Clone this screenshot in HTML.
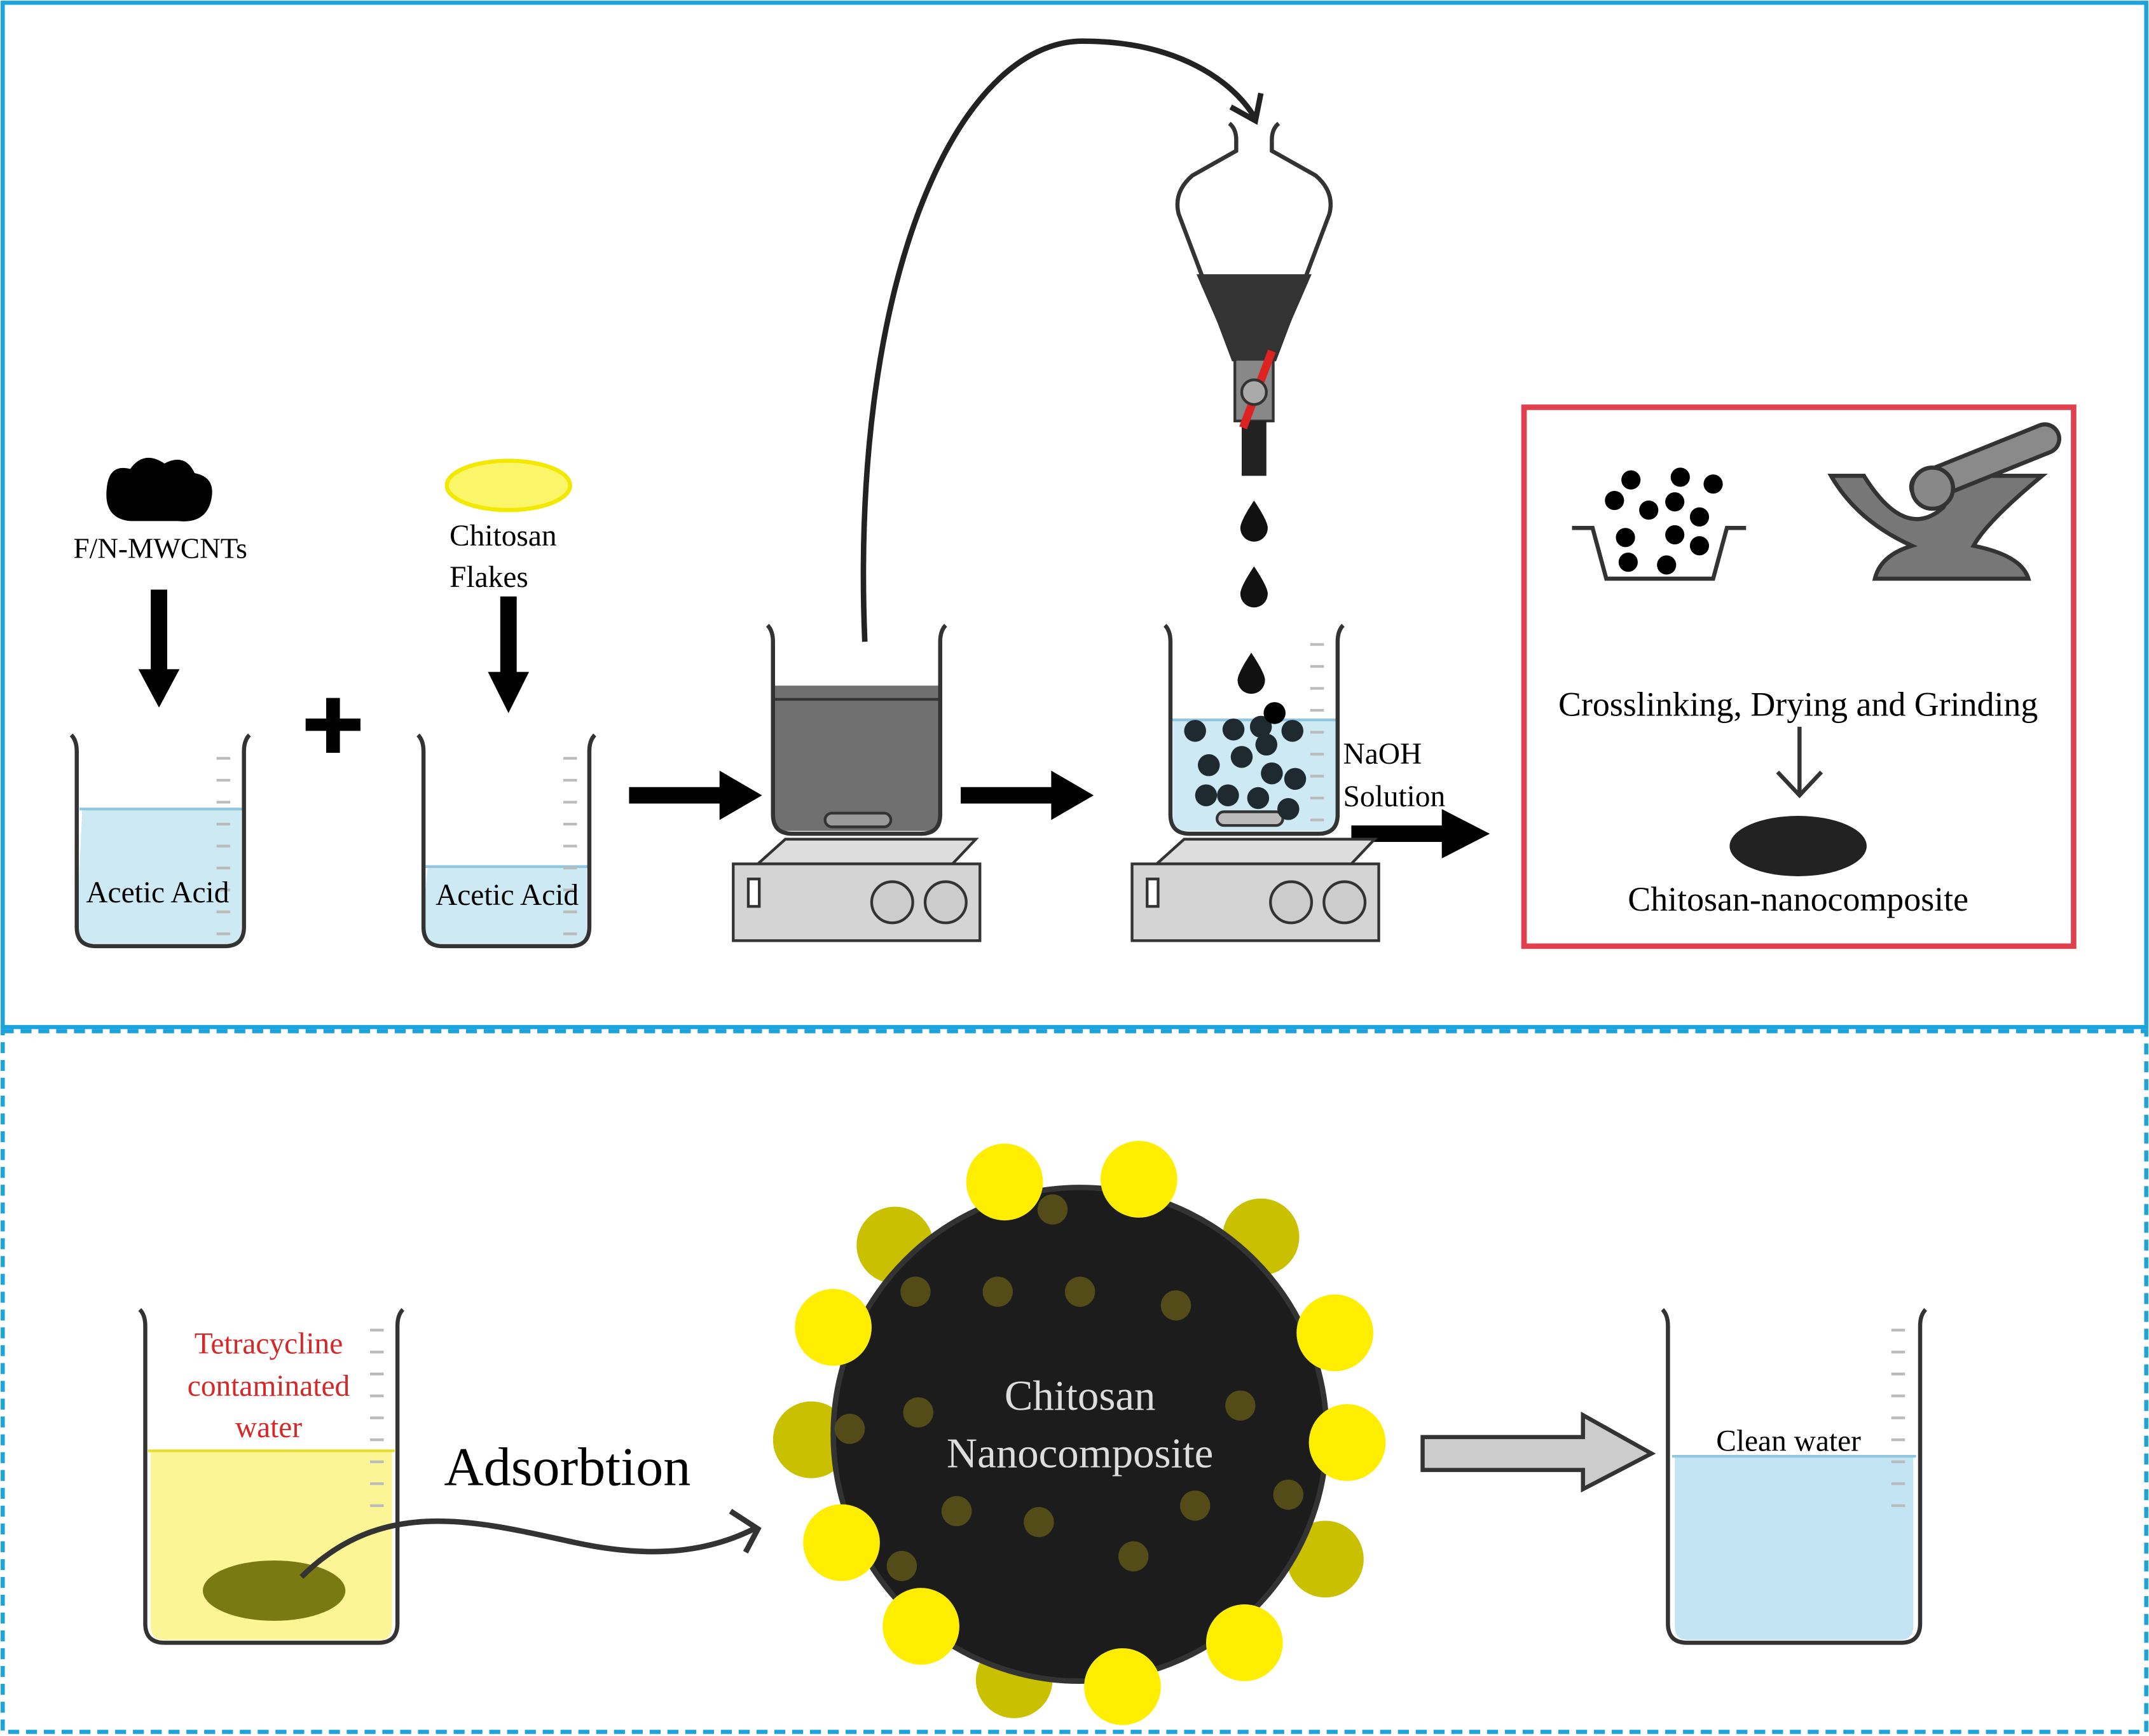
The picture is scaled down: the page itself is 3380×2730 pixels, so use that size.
<!DOCTYPE html>
<html><head><style>html,body{margin:0;padding:0;background:#fff}svg{display:block}svg text{font-family:"Liberation Serif","DejaVu Serif",serif}</style></head><body>
<svg width="3380" height="2730" viewBox="0 0 1568 1266" preserveAspectRatio="none" xmlns="http://www.w3.org/2000/svg">
<defs>
<g id="ticks" stroke="#bbb" stroke-width="2">
<line x1="0" y1="0" x2="10" y2="0"/><line x1="0" y1="16" x2="10" y2="16"/><line x1="0" y1="32" x2="10" y2="32"/><line x1="0" y1="48" x2="10" y2="48"/><line x1="0" y1="64" x2="10" y2="64"/><line x1="0" y1="80" x2="10" y2="80"/><line x1="0" y1="96" x2="10" y2="96"/><line x1="0" y1="112" x2="10" y2="112"/><line x1="0" y1="128" x2="10" y2="128"/>
</g>
<g id="plate">
<polygon points="553,630 695,630 712,612 573,612" fill="#ddd" stroke="#333" stroke-width="2"/>
<rect x="535" y="630" width="180" height="56" fill="#d4d4d4" stroke="#333" stroke-width="2"/>
<rect x="546" y="641" width="8" height="20" fill="#fff" stroke="#333" stroke-width="2"/>
<circle cx="651" cy="658" r="15" fill="#ccc" stroke="#333" stroke-width="2"/>
<circle cx="690" cy="658" r="15" fill="#ccc" stroke="#333" stroke-width="2"/>
</g>
</defs>
<rect x="2" y="2" width="1564" height="747" fill="none" stroke="#1aa3dd" stroke-width="3"/>
<rect x="2" y="752" width="1564" height="511" fill="none" stroke="#1aa3dd" stroke-width="3" stroke-dasharray="8,5"/>

<path d="M60,590 L176,590 L176,678 Q176,688 166,688 L66,688 Q56,688 56,678 Z" fill="#cde9f4"/>
<line x1="58" y1="590" x2="177" y2="590" stroke="#8fc7e0" stroke-width="2"/>
<path d="M52,536 Q56,540 56,548 L56,676 Q56,690 70,690 L164,690 Q178,690 178,676 L178,548 Q178,540 182,536" fill="none" stroke="#333" stroke-width="3"/>
<use href="#ticks" x="158" y="553"/>
<text x="115" y="658" font-size="22" text-anchor="middle">Acetic Acid</text>
<path d="M78,355 Q80,338 95,342 Q105,328 120,338 Q135,330 142,345 Q158,348 154,365 Q150,382 130,380 L95,380 Q75,378 78,355Z" fill="#000"/>
<text x="117" y="407" font-size="21" text-anchor="middle">F/N-MWCNTs</text>
<rect x="110" y="430" width="12" height="60" fill="#000"/><polygon points="101,488 131,488 116,516" fill="#000"/>
<rect x="223" y="524" width="40" height="9" fill="#000"/><rect x="238" y="509" width="10" height="40" fill="#000"/>

<path d="M312,632 L428,632 L428,678 Q428,688 418,688 L318,688 Q308,688 308,678 Z" fill="#cde9f4"/>
<line x1="310" y1="632" x2="430" y2="632" stroke="#8fc7e0" stroke-width="2"/>
<path d="M305,536 Q309,540 309,548 L309,676 Q309,690 323,690 L416,690 Q430,690 430,676 L430,548 Q430,540 434,536" fill="none" stroke="#333" stroke-width="3"/>
<use href="#ticks" x="411" y="553"/>
<text x="370" y="660" font-size="22" text-anchor="middle">Acetic Acid</text>
<ellipse cx="371" cy="354" rx="45" ry="18" fill="#fbf56a" stroke="#f2e800" stroke-width="3"/>
<text x="328" y="398" font-size="22">Chitosan</text>
<text x="328" y="428" font-size="22">Flakes</text>
<rect x="365" y="435" width="12" height="58" fill="#000"/><polygon points="356,490 386,490 371,520" fill="#000"/>

<polygon points="459,574 525,574 525,562 556,580 525,598 525,586 459,586" fill="#000"/>
<polygon points="701,574 767,574 767,562 798,580 767,598 767,586 701,586" fill="#000"/>
<polygon points="986,602 1052,602 1052,590 1087,608 1052,626 1052,614 986,614" fill="#000"/>

<use href="#plate"/>
<path d="M565,500 L685,500 L685,596 Q685,606 675,606 L575,606 Q565,606 565,596Z" fill="#707070"/>
<path d="M560,456 Q564,460 564,468 L564,594 Q564,608 578,608 L672,608 Q686,608 686,594 L686,468 Q686,460 690,456" fill="none" stroke="#333" stroke-width="3"/>
<line x1="565" y1="510" x2="685" y2="510" stroke="#333" stroke-width="2"/>
<rect x="602" y="593" width="48" height="10" rx="5" fill="#999" stroke="#333" stroke-width="2"/>
<path d="M631,468 C620,200 700,30 790,30 C860,30 900,60 915,85" fill="none" stroke="#222" stroke-width="4"/>
<polyline points="898,78 916,88 920,68" fill="none" stroke="#222" stroke-width="4"/>

<use href="#plate" x="291"/>
<path d="M856,525 L975,525 L975,596 Q975,606 965,606 L866,606 Q856,606 856,596Z" fill="#cde9f4"/>
<line x1="854" y1="525" x2="976" y2="525" stroke="#8fc7e0" stroke-width="2"/>
<path d="M850,456 Q854,460 854,468 L854,594 Q854,608 868,608 L962,608 Q976,608 976,594 L976,468 Q976,460 980,456" fill="none" stroke="#333" stroke-width="3"/>
<use href="#ticks" x="956" y="470"/>
<rect x="888" y="592" width="48" height="10" rx="5" fill="#bbb" stroke="#333" stroke-width="2"/>
<g fill="#1f2a30">
<circle cx="872" cy="533" r="8"/><circle cx="900" cy="532" r="8"/><circle cx="920" cy="530" r="8"/><circle cx="943" cy="533" r="8"/>
<circle cx="882" cy="558" r="8"/><circle cx="906" cy="552" r="8"/><circle cx="928" cy="564" r="8"/><circle cx="945" cy="568" r="8"/>
<circle cx="896" cy="580" r="8"/><circle cx="918" cy="582" r="8"/><circle cx="940" cy="590" r="8"/><circle cx="880" cy="580" r="8"/><circle cx="924" cy="543" r="8"/>
</g>
<circle cx="930" cy="520" r="8" fill="#000"/>
<text x="980" y="557" font-size="22">NaOH</text>
<text x="980" y="588" font-size="22">Solution</text>
<g fill="#111"><path d="M915,365 Q905,380 905,385 A10,10 0 0 0 925,385 Q925,380 915,365Z"/><path d="M915,413 Q905,428 905,433 A10,10 0 0 0 925,433 Q925,428 915,413Z"/><path d="M913,476 Q903,491 903,496 A10,10 0 0 0 923,496 Q923,491 913,476Z"/></g>
<path d="M897,90 Q902,94 902,102 L902,110 L870,128 Q856,140 860,156 L900,262 L930,262 L970,156 Q974,140 960,128 L928,110 L928,102 Q928,94 933,90" fill="none" stroke="#333" stroke-width="3"/>
<polygon points="873,200 957,200 930,262 900,262" fill="#333"/>
<rect x="901" y="262" width="28" height="45" fill="#888" stroke="#333" stroke-width="2"/>
<rect x="906" y="307" width="18" height="40" fill="#222"/>
<line x1="907" y1="312" x2="928" y2="256" stroke="#d22" stroke-width="6"/>
<circle cx="915" cy="286" r="9" fill="#aaa" stroke="#333" stroke-width="2"/>

<rect x="1112" y="297" width="401" height="393" fill="none" stroke="#e0404e" stroke-width="4"/>
<path d="M1147,385 L1162,385 L1172,422 L1250,422 L1260,385 L1274,385" fill="none" stroke="#333" stroke-width="3"/>
<g fill="#000"><circle cx="1190" cy="350" r="7"/><circle cx="1226" cy="348" r="7"/><circle cx="1250" cy="353" r="7"/><circle cx="1178" cy="365" r="7"/><circle cx="1203" cy="372" r="7"/><circle cx="1222" cy="366" r="7"/><circle cx="1240" cy="377" r="7"/><circle cx="1186" cy="392" r="7"/><circle cx="1222" cy="390" r="7"/><circle cx="1240" cy="398" r="7"/><circle cx="1188" cy="410" r="7"/><circle cx="1216" cy="412" r="7"/></g>
<path d="M1336,347 L1360,347 Q1390,395 1418,370 L1430,347 L1490,347 Q1450,380 1440,398 Q1475,405 1480,422 L1368,422 Q1372,405 1395,398 Q1355,380 1336,347Z" fill="#777" stroke="#333" stroke-width="3"/>
<line x1="1405" y1="355" x2="1492" y2="320" stroke="#333" stroke-width="24" stroke-linecap="round"/>
<line x1="1405" y1="355" x2="1492" y2="320" stroke="#8a8a8a" stroke-width="18" stroke-linecap="round"/>
<circle cx="1410" cy="356" r="15" fill="#888" stroke="#333" stroke-width="3"/>
<text x="1312" y="522" font-size="25" text-anchor="middle">Crosslinking, Drying and Grinding</text>
<line x1="1313" y1="530" x2="1313" y2="578" stroke="#333" stroke-width="3"/>
<polyline points="1297,563 1313,580 1329,563" fill="none" stroke="#333" stroke-width="3"/>
<ellipse cx="1312" cy="617" rx="50" ry="22" fill="#222"/>
<text x="1312" y="664" font-size="25" text-anchor="middle">Chitosan-nanocomposite</text>

<path d="M110,1058 L286,1058 L286,1186 Q286,1196 276,1196 L120,1196 Q110,1196 110,1186Z" fill="#fbf596"/>
<line x1="108" y1="1058" x2="288" y2="1058" stroke="#e6dc30" stroke-width="2"/>
<path d="M102,955 Q106,959 106,967 L106,1184 Q106,1198 120,1198 L276,1198 Q290,1198 290,1184 L290,967 Q290,959 294,955" fill="none" stroke="#333" stroke-width="3"/>
<use href="#ticks" x="270" y="970"/>
<text x="196" y="987" font-size="22" fill="#d62828" text-anchor="middle">Tetracycline</text>
<text x="196" y="1018" font-size="22" fill="#d62828" text-anchor="middle">contaminated</text>
<text x="196" y="1048" font-size="22" fill="#d62828" text-anchor="middle">water</text>
<ellipse cx="200" cy="1160" rx="52" ry="22" fill="#7a7a12"/>
<path d="M220,1150 C280,1090 350,1110 420,1125 C480,1138 520,1130 550,1115" fill="none" stroke="#333" stroke-width="4"/>
<polyline points="533,1102 553,1115 544,1132" fill="none" stroke="#333" stroke-width="4"/>
<text x="414" y="1083" font-size="40" text-anchor="middle">Adsorbtion</text>

<g fill="#c9c000">
<circle cx="653" cy="908" r="28"/><circle cx="920" cy="902" r="28"/><circle cx="592" cy="1050" r="28"/><circle cx="967" cy="1137" r="28"/><circle cx="740" cy="1225" r="28"/>
</g>
<circle cx="788" cy="1046" r="180" fill="#1c1c1c" stroke="#333" stroke-width="4"/>
<g fill="#5a5218" opacity="0.9">
<circle cx="728" cy="942" r="11"/><circle cx="788" cy="942" r="11"/><circle cx="858" cy="952" r="11"/><circle cx="670" cy="1030" r="11"/><circle cx="905" cy="1025" r="11"/><circle cx="620" cy="1042" r="11"/><circle cx="698" cy="1102" r="11"/><circle cx="758" cy="1110" r="11"/><circle cx="872" cy="1098" r="11"/><circle cx="827" cy="1135" r="11"/><circle cx="658" cy="1142" r="11"/><circle cx="940" cy="1090" r="11"/><circle cx="668" cy="942" r="11"/><circle cx="768" cy="882" r="11"/>
</g>
<g fill="#ffee00">
<circle cx="733" cy="862" r="28"/><circle cx="831" cy="860" r="28"/><circle cx="608" cy="968" r="28"/><circle cx="974" cy="972" r="28"/><circle cx="983" cy="1052" r="28"/><circle cx="614" cy="1125" r="28"/><circle cx="672" cy="1186" r="28"/><circle cx="908" cy="1198" r="28"/><circle cx="819" cy="1230" r="28"/>
</g>
<text x="788" y="1028" font-size="31" fill="#ddd" text-anchor="middle">Chitosan</text>
<text x="788" y="1070" font-size="31" fill="#ddd" text-anchor="middle">Nanocomposite</text>

<polygon points="1038,1048 1155,1048 1155,1032 1205,1060 1155,1086 1155,1072 1038,1072" fill="#ccc" stroke="#333" stroke-width="3"/>

<path d="M1222,1062 L1396,1062 L1396,1186 Q1396,1196 1386,1196 L1232,1196 Q1222,1196 1222,1186Z" fill="#c3e5f3"/>
<line x1="1220" y1="1062" x2="1398" y2="1062" stroke="#8fc7e0" stroke-width="2"/>
<path d="M1213,955 Q1217,959 1217,967 L1217,1184 Q1217,1198 1231,1198 L1387,1198 Q1401,1198 1401,1184 L1401,967 Q1401,959 1405,955" fill="none" stroke="#333" stroke-width="3"/>
<use href="#ticks" x="1380" y="970"/>
<text x="1305" y="1058" font-size="22" text-anchor="middle">Clean water</text>
</svg>
</body></html>
